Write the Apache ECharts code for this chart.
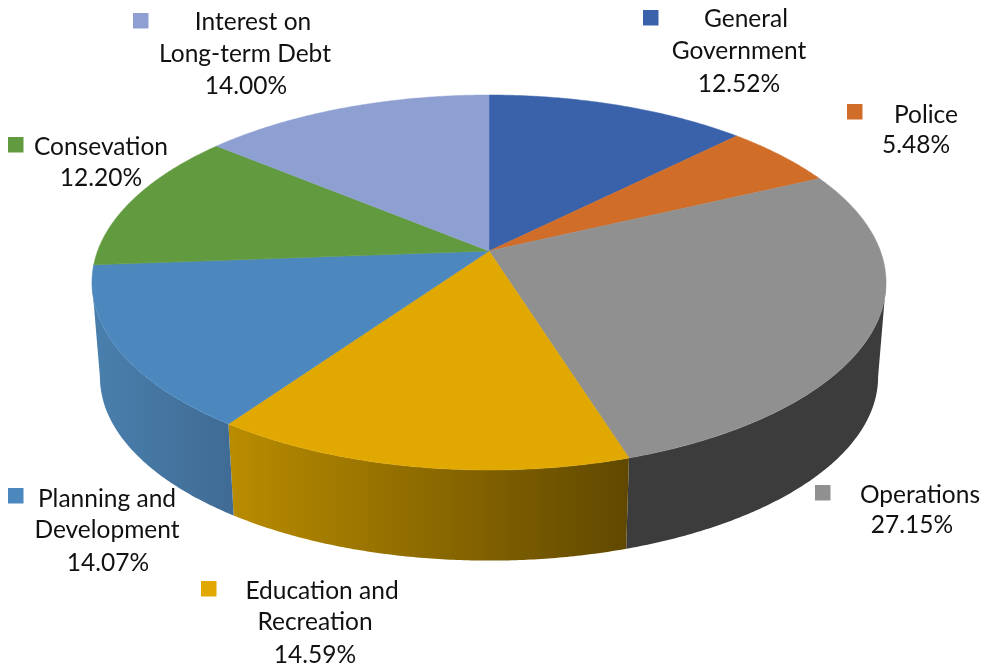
<!DOCTYPE html>
<html>
<head>
<meta charset="utf-8">
<title>Budget shares</title>
<style>html,body{margin:0;padding:0;background:#fff}#chart{width:987px;height:667px}</style>
<script src="https://cdn.jsdelivr.net/npm/echarts@6/dist/echarts.min.js"></script>
</head>
<body>
<div id="chart"></div>
<script>
// Spending categories, clockwise from twelve o'clock
const categories = ['General Government', 'Police', 'Operations', 'Education and Recreation',
  'Planning and Development', 'Consevation', 'Interest on Long-term Debt'];
const shares = [12.52, 5.48, 27.15, 14.59, 14.07, 12.20, 14.00];

// Wrapped label lines for each category
const labelLines = [['General', 'Government'], ['Police'], ['Operations'], ['Education and', 'Recreation'],
  ['Planning and', 'Development'], ['Consevation'], ['Interest on', 'Long-term Debt']];

// Colours of the slice tops and the two ends of each side wall's shading
const topColors = ['#3A62AB', '#D06D28', '#909090', '#E0A800', '#4C88BE', '#629B3F', '#8EA0D2'];
const wallLeft = ['#2B4980', '#9C521E', '#3C3C3C', '#B98C00', '#4A7FAD', '#4A742F', '#6A789E'];
const wallRight = ['#1E3359', '#6D3915', '#3C3C3C', '#604800', '#3F6B94', '#334F20', '#4A546E'];

// Label placement: key square corner, then centre x and centre y of each text line
const labelLayout = [
  { key: [643, 10], x: [746, 739, 739], y: [19, 51, 84] },
  { key: [847, 104], x: [926, 916], y: [115, 145] },
  { key: [815, 485], x: [920, 912], y: [495, 525] },
  { key: [201, 581], x: [322, 315, 315], y: [591, 622, 655] },
  { key: [8, 488], x: [107, 107, 108], y: [499, 530, 563] },
  { key: [8, 137], x: [101, 101], y: [147, 178] },
  { key: [133, 13], x: [253, 245, 246], y: [22, 54, 86] }
];

const total = shares.reduce((a, b) => a + b, 0);
const startOf = i => shares.slice(0, i).reduce((a, b) => a + b, 0) / total * Math.PI * 2;
const endOf = i => startOf(i + 1);

// Perspective projection of the unit disc: nearer points are drawn larger
const APEX_X = 489, APEX_Y = 251, SCALE_X = 391.4, SCALE_Y = 182.2, PERSPECTIVE = 0.168;
const WALL_DROP = 95, BASE_SCALE = 0.98;

// The wall faces the viewer only between the disc's left and right tangent points
const VISIBLE_FROM = Math.acos(-PERSPECTIVE);
const VISIBLE_TO = Math.PI * 2 - VISIBLE_FROM;

function project(angle, base) {
  const u = Math.sin(angle), v = -Math.cos(angle);
  const w = 1 - PERSPECTIVE * v;
  const s = base ? BASE_SCALE : 1;
  return [APEX_X + s * SCALE_X * u / w, APEX_Y + (base ? WALL_DROP : 0) + s * SCALE_Y * v / w];
}

function rim(a0, a1, base) {
  const n = Math.max(2, Math.ceil((a1 - a0) / 0.008));
  const pts = [];
  for (let k = 0; k <= n; k++) pts.push(project(a0 + (a1 - a0) * k / n, base));
  return pts;
}

function renderWall(params) {
  const i = params.dataIndex;
  const a0 = Math.max(startOf(i), VISIBLE_FROM);
  const a1 = Math.min(endOf(i), VISIBLE_TO);
  if (a1 <= a0) return null;
  const top = rim(a0, a1, false);
  const bottom = rim(a0, a1, true).reverse();
  return {
    type: 'polygon',
    shape: { points: top.concat(bottom) },
    style: {
      fill: { type: 'linear', x: 0, y: 0, x2: 1, y2: 0,
        colorStops: [{ offset: 0, color: wallLeft[i] }, { offset: 1, color: wallRight[i] }] },
      stroke: null
    }
  };
}

function renderTop(params) {
  const i = params.dataIndex;
  return {
    type: 'polygon',
    shape: { points: [[APEX_X, APEX_Y]].concat(rim(startOf(i), endOf(i), false)) },
    style: { fill: topColors[i], stroke: topColors[i], lineWidth: 0.5 }
  };
}

function renderLabel(params, api) {
  const i = params.dataIndex;
  const place = labelLayout[i];
  const lines = labelLines[i].concat(api.value(1).toFixed(2) + '%');
  const children = [{
    type: 'rect',
    shape: { x: place.key[0], y: place.key[1], width: 15.5, height: 15.5 },
    style: { fill: topColors[i] }
  }];
  lines.forEach((text, k) => children.push({
    type: 'text',
    style: {
      text, x: place.x[k], y: place.y[k], align: 'center', verticalAlign: 'middle',
      font: '24.5px Lato, "Open Sans", sans-serif', fill: '#111'
    }
  }));
  return { type: 'group', children };
}

const rows = shares.map((v, i) => ({ name: categories[i], value: [i, v] }));
const chart = echarts.init(document.getElementById('chart'), null, { renderer: 'canvas' });
chart.setOption({
  animation: false,
  backgroundColor: '#fff',
  series: [
    { type: 'custom', coordinateSystem: 'none', z: 1, silent: true, data: rows, renderItem: renderWall },
    { type: 'custom', coordinateSystem: 'none', z: 2, silent: true, data: rows, renderItem: renderTop },
    { type: 'custom', coordinateSystem: 'none', z: 3, silent: true, data: rows, renderItem: renderLabel }
  ]
});
</script>
</body>
</html>
